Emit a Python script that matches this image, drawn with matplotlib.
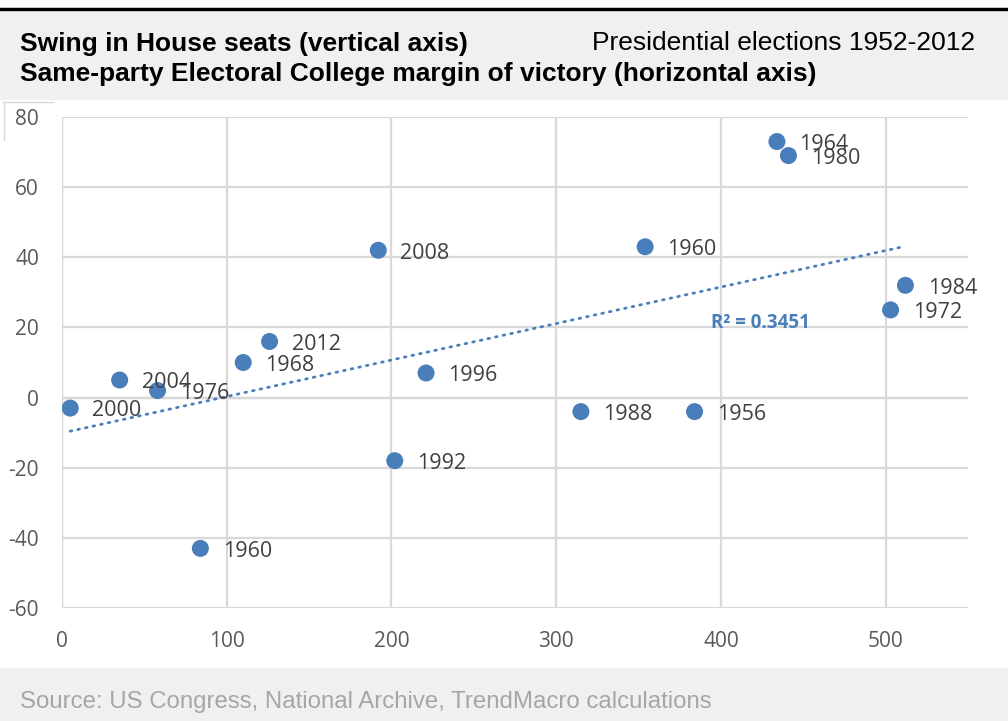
import matplotlib.pyplot as plt
from matplotlib.lines import Line2D
from matplotlib.patches import Rectangle
import numpy as np

plt.rcParams['axes.unicode_minus'] = False

# Electoral College margin (x) vs swing in House seats (y)
margins = [5, 35, 58, 84, 110, 126, 192, 202, 221, 315, 354, 384, 434, 441, 503, 512]
swings = [-3, 5, 2, -43, 10, 16, 42, -18, 7, -4, 43, -4, 73, 69, 25, 32]
years = ['2000', '2004', '1976', '1960', '1968', '2012', '2008', '1992', '1996',
         '1988', '1960', '1956', '1964', '1980', '1972', '1984']

x_ticks = [0, 100, 200, 300, 400, 500]
y_ticks = [-60, -40, -20, 0, 20, 40, 60, 80]

blue = '#4a7ebb'
grid_c = '#d9d9d9'
text_c = '#404040'

fig = plt.figure(figsize=(10.08, 7.21), dpi=100)
fig.patch.set_facecolor('white')

# header / footer bands
fig.add_artist(Rectangle((0, 1 - 100 / 721), 1, 88 / 721, transform=fig.transFigure,
                         facecolor='#f0f0f0', edgecolor='none', zorder=0))
fig.add_artist(Line2D([0, 1], [1 - 8.5 / 721] * 2, transform=fig.transFigure,
                      color='black', lw=2.5))
fig.add_artist(Rectangle((0, 0), 1, 53 / 721, transform=fig.transFigure,
                         facecolor='#f0f0f0', edgecolor='none', zorder=0))
# small border remnant at top-left
fig.add_artist(Line2D([3 / 1008, 53 / 1008], [1 - 101.5 / 721] * 2,
                      transform=fig.transFigure, color='#d9d9d9', lw=1))
fig.add_artist(Line2D([3.5 / 1008] * 2, [1 - 101.5 / 721, 1 - 140 / 721],
                      transform=fig.transFigure, color='#d9d9d9', lw=1))

fig.text(20 / 1008, 1 - 50.5 / 721, 'Swing in House seats (vertical axis)',
         fontsize=19, fontweight='bold', family='Liberation Sans', va='baseline', ha='left')
fig.text(975 / 1008, 1 - 50.5 / 721, 'Presidential elections 1952-2012',
         fontsize=19, family='Liberation Sans', va='baseline', ha='right')
fig.text(20 / 1008, 1 - 81 / 721, 'Same-party Electoral College margin of victory (horizontal axis)',
         fontsize=19, fontweight='bold', family='Liberation Sans', va='baseline', ha='left')
fig.text(20 / 1008, 1 - 708 / 721, 'Source: US Congress, National Archive, TrendMacro calculations',
         fontsize=17.3, family='Liberation Sans', color='#a6a6a6', va='baseline', ha='left')

ax = fig.add_axes([62 / 1008, 1 - 608 / 721, (968 - 62) / 1008, (608 - 117) / 721])
ax.set_xlim(0, 550)
ax.set_ylim(-60, 80)
ax.set_xticks(x_ticks)
ax.set_yticks(y_ticks)
for s in ax.spines.values():
    s.set_visible(False)
ax.grid(True, color=grid_c, lw=1.6, zorder=0)
ax.axhline(0, color='#bfbfbf', lw=1.6, zorder=1)
ax.axvline(0, color='#bfbfbf', lw=1.6, zorder=1)
ax.tick_params(length=0, labelsize=15, labelcolor='#595959')
ax.tick_params(axis='y', pad=16.5)
ax.tick_params(axis='x', pad=16.5)
for lab in ax.get_xticklabels() + ax.get_yticklabels():
    lab.set_family('Open Sans')

# linear trendline
coef = np.polyfit(margins, swings, 1)
xl = np.array([min(margins), max(margins)])
ax.plot(xl, np.polyval(coef, xl), color=blue, lw=2, ls=(0, (0.6, 2.2)),
        dash_capstyle='round', zorder=2)

ax.scatter(margins, swings, s=150, color=blue, edgecolors='none', zorder=3)
for x, y, lab in zip(margins, swings, years):
    ax.annotate(lab, (x, y), xytext=(16, -2), textcoords='offset points',
                va='center', ha='left', fontsize=15.5, family='Open Sans',
                color=text_c, zorder=4)

ax.text(424, 21.2, 'R² = 0.3451', color=blue, fontsize=13.5, fontweight='bold',
        family='Open Sans', ha='center', va='center', zorder=4)

fig.savefig('out.png', dpi=100, facecolor='white')
